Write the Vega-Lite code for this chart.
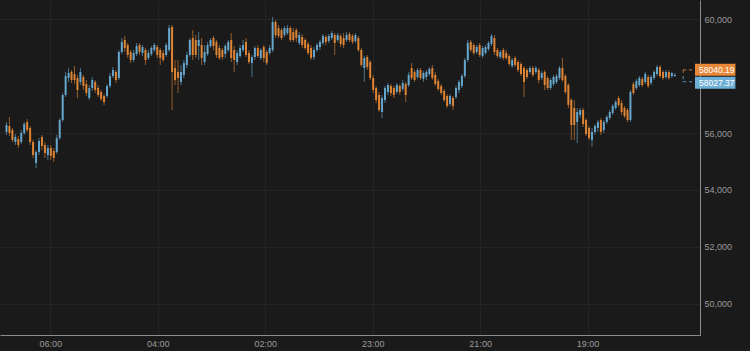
{
"$schema": "https://vega.github.io/schema/vega-lite/v6.json",
"width": 700, "height": 335,
"autosize": {"type": "none"},
"padding": {"left": 0, "top": 0, "right": 50, "bottom": 16},
"background": "#1a1a1a",
"config": {"view": {"stroke": null}, "font": "Liberation Sans"},
"datasets": {
"c": [
{"i":0,"o":56035,"h":56386,"l":55930,"c":56281},
{"i":1,"o":56246,"h":56561,"l":55895,"c":56000},
{"i":2,"o":56105,"h":56175,"l":55684,"c":55754},
{"i":3,"o":55684,"h":55965,"l":55579,"c":55860},
{"i":4,"o":55789,"h":55895,"l":55474,"c":55579},
{"i":5,"o":55684,"h":56105,"l":55614,"c":56000},
{"i":6,"o":56000,"h":56386,"l":55930,"c":56316},
{"i":7,"o":56386,"h":56491,"l":56035,"c":56105},
{"i":8,"o":56175,"h":56246,"l":55579,"c":55684},
{"i":9,"o":55684,"h":55754,"l":55123,"c":55228},
{"i":10,"o":54947,"h":55404,"l":54772,"c":55333},
{"i":11,"o":55333,"h":55825,"l":55228,"c":55719},
{"i":12,"o":55860,"h":55930,"l":55404,"c":55544},
{"i":13,"o":55579,"h":55684,"l":55123,"c":55298},
{"i":14,"o":55228,"h":55579,"l":55053,"c":55474},
{"i":15,"o":55474,"h":55579,"l":55053,"c":55193},
{"i":16,"o":55368,"h":55474,"l":54982,"c":55123},
{"i":17,"o":55333,"h":55930,"l":55263,"c":55825},
{"i":18,"o":55825,"h":56526,"l":55754,"c":56456},
{"i":19,"o":56456,"h":57404,"l":56386,"c":57333},
{"i":20,"o":57333,"h":58140,"l":57263,"c":58000},
{"i":21,"o":57930,"h":58281,"l":57790,"c":58105},
{"i":22,"o":58140,"h":58211,"l":57754,"c":57860},
{"i":23,"o":58070,"h":58351,"l":57719,"c":57860},
{"i":24,"o":57930,"h":58035,"l":57228,"c":57509},
{"i":25,"o":57790,"h":58281,"l":57684,"c":58140},
{"i":26,"o":57965,"h":58035,"l":57509,"c":57649},
{"i":27,"o":57719,"h":57860,"l":57298,"c":57404},
{"i":28,"o":57228,"h":57684,"l":57158,"c":57579},
{"i":29,"o":57579,"h":57965,"l":57474,"c":57860},
{"i":30,"o":57790,"h":57860,"l":57404,"c":57509},
{"i":31,"o":57579,"h":57684,"l":57263,"c":57333},
{"i":32,"o":57439,"h":57509,"l":57123,"c":57193},
{"i":33,"o":57298,"h":57368,"l":56982,"c":57088},
{"i":34,"o":57298,"h":57719,"l":57228,"c":57649},
{"i":35,"o":57649,"h":58105,"l":57579,"c":58000},
{"i":36,"o":58000,"h":58316,"l":57930,"c":58211},
{"i":37,"o":58140,"h":58211,"l":57754,"c":57860},
{"i":38,"o":57930,"h":58912,"l":57860,"c":58842},
{"i":39,"o":58842,"h":59334,"l":58772,"c":59193},
{"i":40,"o":59263,"h":59404,"l":58842,"c":58983},
{"i":41,"o":59088,"h":59158,"l":58632,"c":58737},
{"i":42,"o":58842,"h":58912,"l":58456,"c":58562},
{"i":43,"o":58562,"h":58912,"l":58491,"c":58807},
{"i":44,"o":58772,"h":59158,"l":58702,"c":59053},
{"i":45,"o":59088,"h":59158,"l":58737,"c":58842},
{"i":46,"o":58807,"h":59088,"l":58702,"c":59018},
{"i":47,"o":58912,"h":58983,"l":58386,"c":58562},
{"i":48,"o":58632,"h":58912,"l":58562,"c":58807},
{"i":49,"o":58772,"h":59053,"l":58702,"c":58983},
{"i":50,"o":58912,"h":59158,"l":58842,"c":59088},
{"i":51,"o":59018,"h":59088,"l":58632,"c":58737},
{"i":52,"o":58912,"h":58983,"l":58386,"c":58632},
{"i":53,"o":58807,"h":58912,"l":58491,"c":58562},
{"i":54,"o":58737,"h":59158,"l":58667,"c":59088},
{"i":55,"o":58912,"h":59790,"l":58842,"c":59685},
{"i":56,"o":59720,"h":59790,"l":56807,"c":58140},
{"i":57,"o":58281,"h":58562,"l":57684,"c":57860},
{"i":58,"o":58140,"h":58562,"l":57404,"c":57930},
{"i":59,"o":57790,"h":58386,"l":57684,"c":58140},
{"i":60,"o":58035,"h":58562,"l":57930,"c":58456},
{"i":61,"o":58386,"h":58842,"l":58281,"c":58737},
{"i":62,"o":58737,"h":59334,"l":58667,"c":59263},
{"i":63,"o":59334,"h":59614,"l":58562,"c":58737},
{"i":64,"o":59263,"h":59439,"l":58632,"c":58737},
{"i":65,"o":59053,"h":59544,"l":58562,"c":59263},
{"i":66,"o":59088,"h":59334,"l":58386,"c":58632},
{"i":67,"o":58491,"h":59088,"l":58386,"c":58842},
{"i":68,"o":58772,"h":59193,"l":58702,"c":59088},
{"i":69,"o":59053,"h":59334,"l":58983,"c":59263},
{"i":70,"o":59334,"h":59404,"l":58912,"c":59053},
{"i":71,"o":59193,"h":59263,"l":58632,"c":58737},
{"i":72,"o":58983,"h":59088,"l":58562,"c":58632},
{"i":73,"o":58912,"h":58983,"l":58562,"c":58667},
{"i":74,"o":58772,"h":59123,"l":58632,"c":59053},
{"i":75,"o":58912,"h":59263,"l":58842,"c":59193},
{"i":76,"o":59263,"h":59509,"l":58491,"c":58632},
{"i":77,"o":58912,"h":59053,"l":58140,"c":58562},
{"i":78,"o":58491,"h":58912,"l":58386,"c":58807},
{"i":79,"o":58702,"h":59088,"l":58632,"c":58983},
{"i":80,"o":58912,"h":59263,"l":58842,"c":59088},
{"i":81,"o":59193,"h":59334,"l":58667,"c":58737},
{"i":82,"o":58807,"h":58912,"l":58421,"c":58491},
{"i":83,"o":58456,"h":58737,"l":57965,"c":58667},
{"i":84,"o":58667,"h":59053,"l":58562,"c":58983},
{"i":85,"o":58983,"h":59088,"l":58632,"c":58702},
{"i":86,"o":58632,"h":58983,"l":58562,"c":58912},
{"i":87,"o":59018,"h":59088,"l":58491,"c":58632},
{"i":88,"o":58842,"h":58912,"l":58386,"c":58456},
{"i":89,"o":58807,"h":59088,"l":58737,"c":58983},
{"i":90,"o":58912,"h":60070,"l":58842,"c":59895},
{"i":91,"o":59895,"h":59965,"l":59334,"c":59439},
{"i":92,"o":59685,"h":59790,"l":59334,"c":59404},
{"i":93,"o":59614,"h":59685,"l":59263,"c":59334},
{"i":94,"o":59439,"h":59755,"l":59369,"c":59685},
{"i":95,"o":59509,"h":59790,"l":59439,"c":59685},
{"i":96,"o":59685,"h":59755,"l":59193,"c":59263},
{"i":97,"o":59544,"h":59685,"l":59193,"c":59263},
{"i":98,"o":59614,"h":59685,"l":59193,"c":59334},
{"i":99,"o":59158,"h":59544,"l":59088,"c":59439},
{"i":100,"o":59369,"h":59474,"l":58983,"c":59088},
{"i":101,"o":59263,"h":59334,"l":58912,"c":58983},
{"i":102,"o":59123,"h":59193,"l":58737,"c":58807},
{"i":103,"o":58983,"h":59088,"l":58562,"c":58632},
{"i":104,"o":58667,"h":59018,"l":58562,"c":58912},
{"i":105,"o":58912,"h":59158,"l":58842,"c":59088},
{"i":106,"o":59018,"h":59263,"l":58912,"c":59193},
{"i":107,"o":59158,"h":59474,"l":59088,"c":59404},
{"i":108,"o":59369,"h":59439,"l":59088,"c":59193},
{"i":109,"o":59228,"h":59474,"l":59158,"c":59404},
{"i":110,"o":59334,"h":59579,"l":59263,"c":59509},
{"i":111,"o":59439,"h":59509,"l":58737,"c":59158},
{"i":112,"o":59263,"h":59509,"l":59193,"c":59439},
{"i":113,"o":59404,"h":59474,"l":59018,"c":59123},
{"i":114,"o":59334,"h":59509,"l":58983,"c":59088},
{"i":115,"o":59263,"h":59544,"l":59193,"c":59439},
{"i":116,"o":59474,"h":59544,"l":59193,"c":59263},
{"i":117,"o":59404,"h":59474,"l":59123,"c":59193},
{"i":118,"o":59228,"h":59509,"l":59158,"c":59439},
{"i":119,"o":59334,"h":59404,"l":58842,"c":58912},
{"i":120,"o":58912,"h":58983,"l":58316,"c":58386},
{"i":121,"o":58281,"h":58702,"l":57790,"c":58632},
{"i":122,"o":58667,"h":58737,"l":58211,"c":58316},
{"i":123,"o":58491,"h":58562,"l":57860,"c":57930},
{"i":124,"o":57930,"h":58035,"l":57404,"c":57509},
{"i":125,"o":57579,"h":57649,"l":57053,"c":57158},
{"i":126,"o":57333,"h":57439,"l":56737,"c":56807},
{"i":127,"o":56737,"h":57333,"l":56526,"c":57228},
{"i":128,"o":57158,"h":57649,"l":57053,"c":57579},
{"i":129,"o":57439,"h":57754,"l":57333,"c":57684},
{"i":130,"o":57649,"h":57719,"l":57298,"c":57404},
{"i":131,"o":57579,"h":57649,"l":57228,"c":57333},
{"i":132,"o":57439,"h":57754,"l":57368,"c":57684},
{"i":133,"o":57649,"h":57719,"l":57333,"c":57439},
{"i":134,"o":57544,"h":57860,"l":57474,"c":57754},
{"i":135,"o":57719,"h":57790,"l":57088,"c":57333},
{"i":136,"o":57684,"h":58140,"l":57614,"c":58035},
{"i":137,"o":58281,"h":58456,"l":57860,"c":57930},
{"i":138,"o":58140,"h":58211,"l":57790,"c":57860},
{"i":139,"o":57965,"h":58281,"l":57895,"c":58211},
{"i":140,"o":58211,"h":58281,"l":57860,"c":57930},
{"i":141,"o":57895,"h":58176,"l":57790,"c":58105},
{"i":142,"o":57965,"h":58211,"l":57860,"c":58140},
{"i":143,"o":58070,"h":58316,"l":58000,"c":58246},
{"i":144,"o":58281,"h":58386,"l":57860,"c":57930},
{"i":145,"o":58035,"h":58140,"l":57649,"c":57719},
{"i":146,"o":57825,"h":57895,"l":57474,"c":57544},
{"i":147,"o":57649,"h":57719,"l":57333,"c":57404},
{"i":148,"o":57474,"h":57544,"l":57088,"c":57158},
{"i":149,"o":57298,"h":57368,"l":56877,"c":56947},
{"i":150,"o":57018,"h":57368,"l":56947,"c":57298},
{"i":151,"o":57228,"h":57298,"l":56807,"c":56947},
{"i":152,"o":57263,"h":57649,"l":57193,"c":57579},
{"i":153,"o":57509,"h":57860,"l":57404,"c":57790},
{"i":154,"o":57649,"h":58070,"l":57579,"c":58000},
{"i":155,"o":58000,"h":58632,"l":57930,"c":58562},
{"i":156,"o":58562,"h":59263,"l":58491,"c":59158},
{"i":157,"o":59193,"h":59263,"l":58842,"c":58912},
{"i":158,"o":59088,"h":59158,"l":58737,"c":58807},
{"i":159,"o":58842,"h":59088,"l":58772,"c":59018},
{"i":160,"o":59088,"h":59158,"l":58667,"c":58737},
{"i":161,"o":58702,"h":59053,"l":58632,"c":58983},
{"i":162,"o":58807,"h":59088,"l":58737,"c":59018},
{"i":163,"o":58948,"h":59228,"l":58877,"c":59158},
{"i":164,"o":59123,"h":59474,"l":59053,"c":59404},
{"i":165,"o":59334,"h":59439,"l":58737,"c":58842},
{"i":166,"o":58912,"h":58983,"l":58632,"c":58702},
{"i":167,"o":58667,"h":58912,"l":58597,"c":58842},
{"i":168,"o":58912,"h":58983,"l":58562,"c":58632},
{"i":169,"o":58807,"h":58912,"l":58562,"c":58632},
{"i":170,"o":58702,"h":58772,"l":58351,"c":58421},
{"i":171,"o":58351,"h":58632,"l":58281,"c":58562},
{"i":172,"o":58632,"h":58702,"l":58316,"c":58386},
{"i":173,"o":58491,"h":58562,"l":58140,"c":58211},
{"i":174,"o":58421,"h":58491,"l":58000,"c":58070},
{"i":175,"o":58281,"h":58351,"l":57263,"c":57790},
{"i":176,"o":58211,"h":58281,"l":57895,"c":57965},
{"i":177,"o":58140,"h":58351,"l":58070,"c":58281},
{"i":178,"o":58281,"h":58351,"l":57965,"c":58035},
{"i":179,"o":58140,"h":58351,"l":58070,"c":58281},
{"i":180,"o":58211,"h":58281,"l":57754,"c":57860},
{"i":181,"o":57930,"h":58176,"l":57860,"c":58105},
{"i":182,"o":58140,"h":58211,"l":57509,"c":57684},
{"i":183,"o":57930,"h":58000,"l":57509,"c":57579},
{"i":184,"o":57579,"h":57930,"l":57509,"c":57860},
{"i":185,"o":57719,"h":58035,"l":57649,"c":57965},
{"i":186,"o":57790,"h":58070,"l":57719,"c":58000},
{"i":187,"o":57930,"h":58351,"l":57860,"c":58281},
{"i":188,"o":58281,"h":58632,"l":57790,"c":57860},
{"i":189,"o":58000,"h":58070,"l":57368,"c":57439},
{"i":190,"o":57684,"h":57754,"l":56877,"c":56982},
{"i":191,"o":57158,"h":57228,"l":55754,"c":56281},
{"i":192,"o":56877,"h":57158,"l":55754,"c":56281},
{"i":193,"o":56386,"h":56877,"l":55649,"c":56737},
{"i":194,"o":56632,"h":56877,"l":56526,"c":56807},
{"i":195,"o":56807,"h":56877,"l":56211,"c":56316},
{"i":196,"o":56456,"h":56526,"l":55895,"c":55965},
{"i":197,"o":56175,"h":56246,"l":55754,"c":55825},
{"i":198,"o":55754,"h":56175,"l":55509,"c":56035},
{"i":199,"o":56035,"h":56316,"l":55930,"c":56246},
{"i":200,"o":56175,"h":56456,"l":56035,"c":56386},
{"i":201,"o":56456,"h":56526,"l":55930,"c":56035},
{"i":202,"o":56105,"h":56456,"l":56000,"c":56386},
{"i":203,"o":56386,"h":56632,"l":56316,"c":56561},
{"i":204,"o":56526,"h":56807,"l":56456,"c":56737},
{"i":205,"o":56702,"h":57018,"l":56632,"c":56947},
{"i":206,"o":56877,"h":57158,"l":56807,"c":57088},
{"i":207,"o":57228,"h":57298,"l":56912,"c":56982},
{"i":208,"o":57053,"h":57158,"l":56632,"c":56737},
{"i":209,"o":56877,"h":56947,"l":56526,"c":56597},
{"i":210,"o":56807,"h":56877,"l":56386,"c":56456},
{"i":211,"o":56456,"h":57509,"l":56386,"c":57439},
{"i":212,"o":57719,"h":57790,"l":57333,"c":57404},
{"i":213,"o":57579,"h":57895,"l":57509,"c":57825},
{"i":214,"o":57684,"h":58000,"l":57614,"c":57930},
{"i":215,"o":57895,"h":57965,"l":57614,"c":57684},
{"i":216,"o":57790,"h":58140,"l":57719,"c":58070},
{"i":217,"o":57965,"h":58035,"l":57579,"c":57649},
{"i":218,"o":57754,"h":58035,"l":57684,"c":57965},
{"i":219,"o":57930,"h":58211,"l":57860,"c":58140},
{"i":220,"o":58070,"h":58386,"l":58000,"c":58316},
{"i":221,"o":58316,"h":58386,"l":57930,"c":58000},
{"i":222,"o":58140,"h":58211,"l":57860,"c":57930},
{"i":223,"o":57965,"h":58211,"l":57895,"c":58140},
{"i":224,"o":58140,"h":58211,"l":57860,"c":57930},
{"i":225,"o":58000,"h":58140,"l":57930,"c":58105},
{"i":226,"o":58000,"h":58105,"l":57965,"c":58040}
],
"p": [
{"v": 58040.19, "t": "58040.19", "k": "up"},
{"v": 58027.37, "t": "58027.37", "k": "dn"}
]
},
"layer": [
{
"data": {"name": "c"},
"mark": {"type": "rule", "strokeWidth": 1, "opacity": 0.6},
"encoding": {
"x": {"field": "i", "type": "quantitative",
"scale": {"domain": [-0.5, 232.83], "nice": false, "zero": false},
"axis": {"orient": "bottom", "title": null, "values": [14.83, 51.17, 87.5, 123.83, 160.17, 196.5],
"labelExpr": "datum.value < 30 ? '06:00' : datum.value < 70 ? '04:00' : datum.value < 100 ? '02:00' : datum.value < 140 ? '23:00' : datum.value < 180 ? '21:00' : '19:00'",
"grid": true, "gridColor": "#242424", "ticks": false, "domainColor": "#8c8c8c", "labelColor": "#9a9a9a",
"labelFontSize": 9, "labelPadding": 4, "labelFont": "Liberation Sans"}},
"y": {"field": "l", "type": "quantitative",
"scale": {"domain": [48912, 60667], "nice": false, "zero": false},
"axis": {"orient": "right", "title": null, "values": [50000, 52000, 54000, 56000, 60000], "format": ",d",
"grid": true, "gridColor": "#242424", "ticks": false, "domainColor": "#8c8c8c", "labelColor": "#9a9a9a",
"labelFontSize": 9, "labelPadding": 4, "labelFont": "Liberation Sans"}},
"y2": {"field": "h"},
"color": {"condition": {"test": "datum.c >= datum.o", "value": "#6aaed6"}, "value": "#e88a35"}
}
},
{
"data": {"name": "c"},
"mark": {"type": "bar", "size": 2, "opacity": 0.92},
"encoding": {
"x": {"field": "i", "type": "quantitative"},
"y": {"field": "o", "type": "quantitative"},
"y2": {"field": "c"},
"color": {"condition": {"test": "datum.c >= datum.o", "value": "#6aaed6"}, "value": "#e88a35"}
}
},
{
"data": {"name": "p"},
"transform": [{"filter": "datum.k == 'up'"}],
"mark": {"type": "rule", "strokeWidth": 12, "strokeCap": "butt", "color": "#e8893a", "yOffset": -5},
"encoding": {"x": {"datum": 232.83}, "x2": {"datum": 246.5}, "y": {"field": "v", "type": "quantitative"}}
},
{
"data": {"name": "p"},
"transform": [{"filter": "datum.k == 'dn'"}],
"mark": {"type": "rule", "strokeWidth": 12, "strokeCap": "butt", "color": "#6fb0d8", "yOffset": 7.5},
"encoding": {"x": {"datum": 232.83}, "x2": {"datum": 246.5}, "y": {"field": "v", "type": "quantitative"}}
},
{
"data": {"name": "p"},
"transform": [{"filter": "datum.k == 'up'"}],
"mark": {"type": "rule", "strokeWidth": 1, "strokeDash": [3, 3], "color": "#c07a3a", "yOffset": -5},
"encoding": {"x": {"datum": 228.83}, "x2": {"datum": 232.83}, "y": {"field": "v", "type": "quantitative"}}
},
{
"data": {"name": "p"},
"transform": [{"filter": "datum.k == 'up'"}],
"mark": {"type": "rule", "strokeWidth": 1, "strokeDash": [3, 2], "color": "#c07a3a", "yOffset": -5, "y2Offset": 0},
"encoding": {"x": {"datum": 228.83}, "y": {"field": "v", "type": "quantitative"}, "y2": {"field": "v"}}
},
{
"data": {"name": "p"},
"transform": [{"filter": "datum.k == 'dn'"}],
"mark": {"type": "rule", "strokeWidth": 1, "strokeDash": [3, 3], "color": "#5d94b8", "yOffset": 6.5},
"encoding": {"x": {"datum": 228.83}, "x2": {"datum": 232.83}, "y": {"field": "v", "type": "quantitative"}}
},
{
"data": {"name": "p"},
"transform": [{"filter": "datum.k == 'dn'"}],
"mark": {"type": "rule", "strokeWidth": 1, "strokeDash": [3, 2], "color": "#5d94b8", "yOffset": 1, "y2Offset": 6.5},
"encoding": {"x": {"datum": 228.83}, "y": {"field": "v", "type": "quantitative"}, "y2": {"field": "v"}}
},
{
"data": {"name": "p"},
"transform": [{"filter": "datum.k == 'up'"}],
"mark": {"type": "text", "align": "left", "baseline": "middle", "dx": 4, "yOffset": -4.5, "color": "#ffffff", "fontSize": 8.5, "font": "Liberation Sans"},
"encoding": {"x": {"datum": 232.83}, "y": {"field": "v", "type": "quantitative"}, "text": {"field": "t"}}
},
{
"data": {"name": "p"},
"transform": [{"filter": "datum.k == 'dn'"}],
"mark": {"type": "text", "align": "left", "baseline": "middle", "dx": 4, "yOffset": 8, "color": "#ffffff", "fontSize": 8.5, "font": "Liberation Sans"},
"encoding": {"x": {"datum": 232.83}, "y": {"field": "v", "type": "quantitative"}, "text": {"field": "t"}}
}
]
}
